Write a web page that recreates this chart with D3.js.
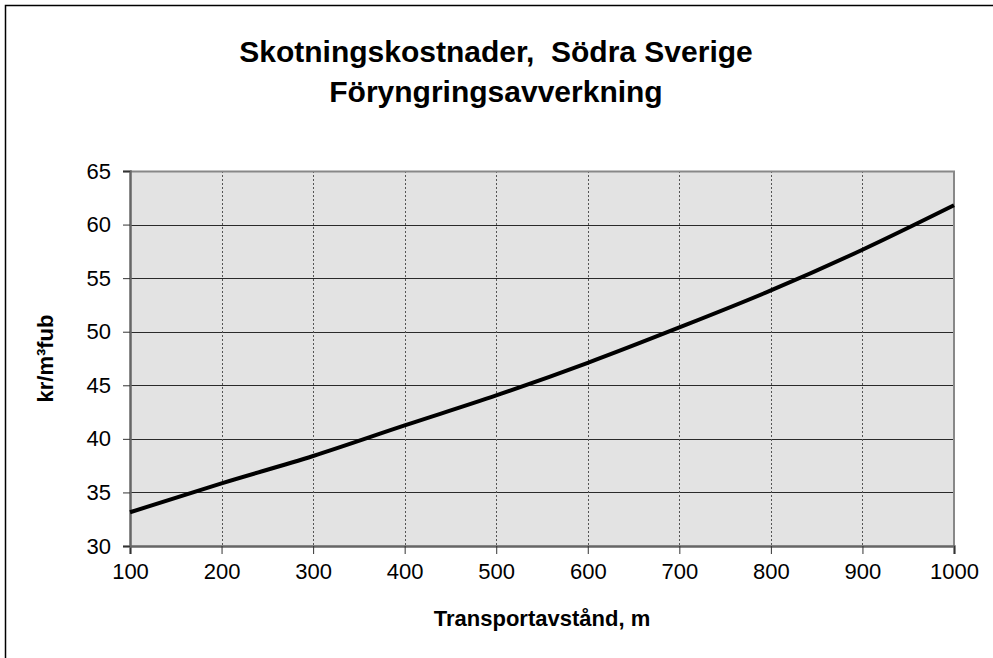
<!DOCTYPE html>
<html lang="sv">
<head>
  <meta charset="UTF-8">
  <title>Skotningskostnader</title>
  <style>
    body { margin: 0; background: #fff; }
    svg { display: block; font-family: "Liberation Sans", Arial, sans-serif; }
  </style>
</head>
<body>
  <svg width="993" height="658"></svg>
  <script src="https://d3js.org/d3.v7.min.js"></script>
  <script>
// Data
const distances = [100, 200, 300, 400, 500, 600, 700, 800, 900, 1000];
const costs = [33.15, 35.85, 38.4, 41.25, 44.05, 47.1, 50.4, 53.85, 57.65, 61.8];
const yTicks = [30, 35, 40, 45, 50, 55, 60, 65];
const titleLines = ["Skotningskostnader,\u00a0 Södra Sverige", "Föryngringsavverkning"];

const margin = { top: 171, right: 39, bottom: 112, left: 130 },
      width = 993 - margin.left - margin.right,
      height = 658 - margin.top - margin.bottom;

const svg = d3.select("svg");

// outer frame (runs off the right and bottom edges)
svg.append("rect")
  .attr("x", 5.5).attr("y", 5.5)
  .attr("width", 1000).attr("height", 700)
  .attr("fill", "none").attr("stroke", "#000").attr("stroke-width", 1.5);

// title
svg.append("g").selectAll("text")
  .data(titleLines)
  .join("text")
  .attr("x", 496)
  .attr("y", (d, i) => 62 + i * 40)
  .attr("text-anchor", "middle")
  .style("font-size", "30px")
  .style("font-weight", "bold")
  .text(d => d);

const g = svg.append("g").attr("transform", `translate(${margin.left},${margin.top})`);

const x = d3.scaleLinear().domain([100, 1000]).range([0, width]);
const y = d3.scaleLinear().domain([30, 65]).range([height, 0]);

// plot background
g.append("rect")
  .attr("width", width).attr("height", height)
  .attr("fill", "#e3e3e3");

// horizontal gridlines
g.append("g").selectAll("line")
  .data(yTicks.slice(1, -1))
  .join("line")
  .attr("x1", 0).attr("x2", width)
  .attr("y1", d => Math.round(y(d)) + 0.5).attr("y2", d => Math.round(y(d)) + 0.5)
  .attr("stroke", "#2a2a2a").attr("stroke-width", 1);

// vertical gridlines
g.append("g").selectAll("line")
  .data(distances.slice(1, -1))
  .join("line")
  .attr("x1", d => Math.round(x(d)) + 0.5).attr("x2", d => Math.round(x(d)) + 0.5)
  .attr("y1", 0).attr("y2", height)
  .attr("stroke", "#555").attr("stroke-width", 1)
  .attr("stroke-dasharray", "2,2");

// plot border (top / right)
g.append("path")
  .attr("d", `M0,0.5H${width}V${height}`)
  .attr("fill", "none").attr("stroke", "#888").attr("stroke-width", 2);

// axes
const xAxis = g.append("g")
  .attr("transform", `translate(0,${height})`)
  .call(d3.axisBottom(x).tickValues(distances).tickFormat(d3.format("d")).tickSize(8).tickPadding(9));
xAxis.select(".domain").attr("stroke", "#666").attr("stroke-width", 2.5);
xAxis.selectAll(".tick line").attr("stroke", "#333");

const yAxis = g.append("g")
  .call(d3.axisLeft(y).tickValues(yTicks).tickSize(7).tickPadding(12));
yAxis.select(".domain").attr("stroke", "#666").attr("stroke-width", 2.5);
yAxis.selectAll(".tick line").attr("stroke", "#333");

g.selectAll(".tick text")
  .style("font-size", "22px")
  .style("font-family", "'Liberation Sans', Arial, sans-serif")
  .attr("fill", "#000");

// cost curve
g.append("path")
  .datum(distances.map((d, i) => [d, costs[i]]))
  .attr("fill", "none")
  .attr("stroke", "#000")
  .attr("stroke-width", 4)
  .attr("stroke-linejoin", "round")
  .attr("d", d3.line().x(d => x(d[0])).y(d => y(d[1])).curve(d3.curveMonotoneX));

// axis titles
svg.append("text")
  .attr("x", margin.left + width / 2)
  .attr("y", 626)
  .attr("text-anchor", "middle")
  .style("font-size", "22px")
  .style("font-weight", "bold")
  .text("Transportavstånd, m");

svg.append("text")
  .attr("transform", `translate(53,${margin.top + height / 2}) rotate(-90)`)
  .attr("text-anchor", "middle")
  .style("font-size", "22px")
  .style("font-weight", "bold")
  .text("kr/m³fub");
  </script>
</body>
</html>
